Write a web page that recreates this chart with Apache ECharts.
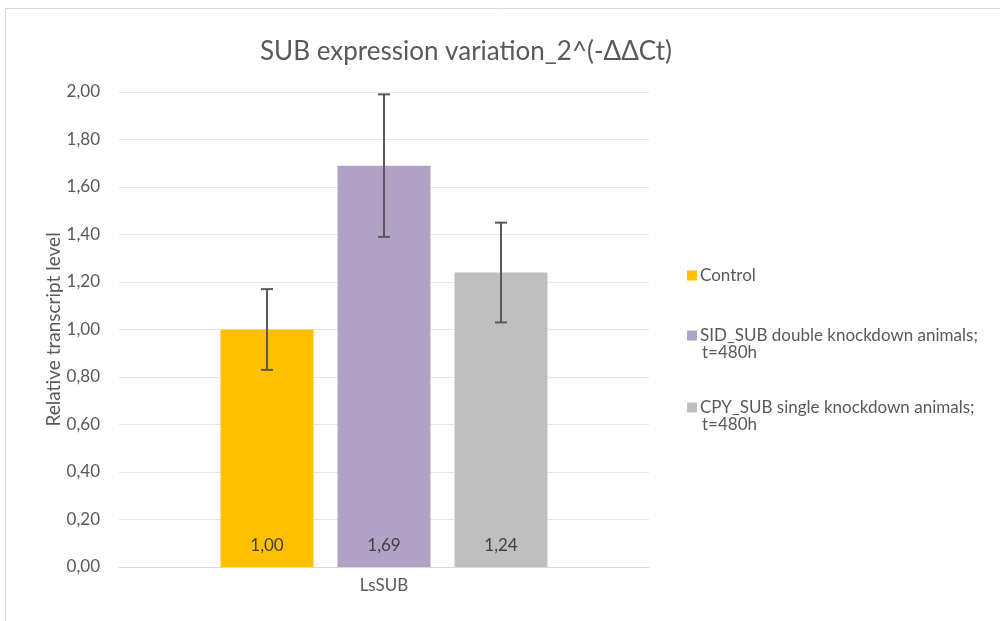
<!DOCTYPE html>
<html>
<head>
<meta charset="utf-8">
<script src="https://cdn.jsdelivr.net/npm/echarts@6/dist/echarts.min.js"></script>
<style>html,body{margin:0;padding:0;background:#fff}#c{width:1000px;height:621px}</style>
</head>
<body>
<div id="c"></div>
<script>
var categories = ['LsSUB'];
var seriesNames = ['Control', 'SID_SUB double knockdown animals;', 'CPY_SUB single knockdown animals;'];
var legendSecondLines = ['', 't=480h', 't=480h'];
var values = [1.00, 1.69, 1.24];
var errors = [0.17, 0.30, 0.21];
var colors = ['#ffc000', '#b3a2c7', '#bfbfbf'];

var FONT = 'Lato';
var BAR_W = 93, BAR_STEP = 117;

var chart = echarts.init(document.getElementById('c'));

var series = [];
seriesNames.forEach(function (name, i) {
  series.push({
    name: name, type: 'bar', barWidth: BAR_W, barGap: ((BAR_STEP - BAR_W) / BAR_W * 100) + '%',
    itemStyle: { color: colors[i] },
    label: { show: true, position: 'insideBottom', distance: 13, color: '#404040', fontSize: 17, fontFamily: FONT,
      formatter: function (p) { return p.value.toFixed(2).replace('.', ','); } },
    data: [values[i]], z: 2
  });
});
series.push({
  type: 'custom', name: 'err', z: 5, silent: true,
  data: values.map(function (v, i) { return [0, v, errors[i], i]; }),
  renderItem: function (params, api) {
    var idx = api.value(3);
    var v = api.value(1), e = api.value(2);
    var top = api.coord([api.value(0), v + e]);
    var bot = api.coord([api.value(0), v - e]);
    var x = top[0] + (idx - 1) * BAR_STEP;
    var cap = 6;
    var st = { stroke: '#595959', lineWidth: 2 };
    return { type: 'group', children: [
      { type: 'line', shape: { x1: x, y1: top[1], x2: x, y2: bot[1] }, style: st },
      { type: 'line', shape: { x1: x - cap, y1: top[1], x2: x + cap, y2: top[1] }, style: st },
      { type: 'line', shape: { x1: x - cap, y1: bot[1], x2: x + cap, y2: bot[1] }, style: st }
    ]};
  }
});

var legendCenters = [274, 334, 406];
var legends = seriesNames.map(function (name, i) {
  return { data: [name], left: 682, top: legendCenters[i] - 12, orient: 'vertical', itemWidth: 10, itemHeight: 10, itemGap: 4,
    icon: 'rect', selectedMode: false,
    textStyle: { color: '#595959', fontSize: 17, fontFamily: FONT, padding: [0, 0, 0, -2] } };
});

var graphics = [{ type: 'rect', left: 3, top: 6, shape: { width: 1100, height: 700 }, style: { fill: 'none', stroke: '#d9d9d9', lineWidth: 1 }, silent: true }];
legendSecondLines.forEach(function (t, i) {
  if (t) graphics.push({ type: 'text', left: 702, top: legendCenters[i] + 10, style: { text: t, fill: '#595959', font: '17px ' + FONT } });
});

chart.setOption({
  backgroundColor: '#fff',
  animation: false,
  title: { text: 'SUB expression variation_2^(-ΔΔCt)', left: 255, top: 34,
    textStyle: { color: '#595959', fontSize: 26, fontWeight: 'normal', fontFamily: FONT } },
  legend: legends,
  graphic: graphics,
  grid: { left: 119, right: 351, top: 92, bottom: 54 },
  xAxis: { type: 'category', data: categories,
    axisLine: { lineStyle: { color: '#d9d9d9' } }, axisTick: { show: false },
    axisLabel: { color: '#595959', fontSize: 17, fontFamily: FONT, margin: 10 } },
  yAxis: { type: 'value', min: 0, max: 2, interval: 0.2,
    name: 'Relative transcript level', nameLocation: 'middle', nameGap: 56, nameRotate: 90, nameMoveOverlap: false,
    nameTextStyle: { color: '#595959', fontSize: 19, fontFamily: FONT },
    axisLine: { show: false }, axisTick: { show: false },
    splitLine: { lineStyle: { color: '#e6e6e6', width: 1 } },
    axisLabel: { color: '#595959', fontSize: 17, fontFamily: FONT, margin: 19,
      formatter: function (v) { return v.toFixed(2).replace('.', ','); } } },
  series: series
});
</script>
</body>
</html>
